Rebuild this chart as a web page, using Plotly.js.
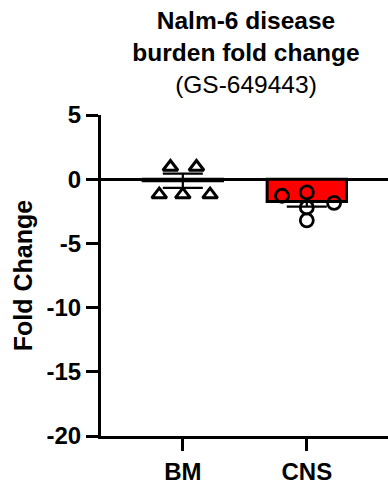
<!DOCTYPE html>
<html>
<head>
<meta charset="utf-8">
<script src="https://cdn.plot.ly/plotly-3.0.1.min.js"></script>
<style>html,body{margin:0;padding:0;background:#fff;}#chart{width:388px;height:485px;}</style>
</head>
<body>
<div id="chart"></div>
<script>
// ---- data ----
const categories = ['BM', 'CNS'];
const barMeans = [-0.12, -1.73];
const semPlus = [0.55, 0];
const semMinus = [0.55, 0.4];
const bmValues = [0.95, 0.95, -1.2, -1.2, -1.2];
const cnsValues = [-1.29, -1.03, -1.85, -2.2, -3.2];
const yTicks = [5, 0, -5, -10, -15, -20];

// ---- presentation ----
const bmJitter = [-0.1, 0.11, -0.19, 0.0, 0.22];
const cnsJitter = [-0.2, 0.0, 0.22, 0.0, 0.0];
const FONT = 'Liberation Sans, Arial, Helvetica, sans-serif';

const bars = {
  type: 'bar',
  x: categories.map((_, i) => i),
  y: barMeans,
  width: 0.64,
  marker: { color: ['white', 'red'], line: { color: 'black', width: 3 } },
  error_y: { type: 'data', symmetric: false, array: semPlus, arrayminus: semMinus,
             color: 'black', thickness: 2.2, width: 20 },
  hoverinfo: 'skip'
};
const bmPts = {
  type: 'scatter', mode: 'markers',
  x: bmValues.map((_, k) => 0 + bmJitter[k]),
  y: bmValues,
  marker: { symbol: 'triangle-up-open', size: 13, color: 'black', line: { width: 3, color: 'black' } }
};
const cnsPts = {
  type: 'scatter', mode: 'markers',
  x: cnsValues.map((_, k) => 1 + cnsJitter[k]),
  y: cnsValues,
  marker: { symbol: 'circle-open', size: 13, color: 'black', line: { width: 2.8, color: 'black' } }
};

const layout = {
  width: 388, height: 485,
  margin: { l: 101, r: 0, t: 115, b: 49 },
  paper_bgcolor: 'white', plot_bgcolor: 'white',
  showlegend: false,
  font: { family: FONT, color: 'black' },
  title: {
    text: '<b>Nalm-6 disease<br>burden fold change</b><br>(GS-649443)',
    font: { family: FONT, size: 24.5, color: 'black' },
    x: 0.634, xref: 'container', xanchor: 'center',
    y: 0.94, yref: 'container', yanchor: 'top'
  },
  xaxis: {
    range: [-0.66, 1.655],
    tickvals: categories.map((_, i) => i),
    ticktext: categories,
    showline: true, linewidth: 3, linecolor: 'black',
    ticks: 'outside', ticklen: 12, tickwidth: 3, tickcolor: 'black',
    showgrid: false, zeroline: false,
    tickfont: { family: FONT, size: 24, weight: 'bold', color: 'black' },
    fixedrange: true
  },
  yaxis: {
    range: [-20, 5],
    tickvals: yTicks,
    ticktext: yTicks.map(String),
    showline: true, linewidth: 3, linecolor: 'black',
    ticks: 'outside', ticklen: 12, tickwidth: 3, tickcolor: 'black',
    showgrid: false,
    zeroline: true, zerolinewidth: 3, zerolinecolor: 'black',
    tickfont: { family: FONT, size: 24, weight: 'bold', color: 'black' },
    title: { text: 'Fold Change', font: { family: FONT, size: 25, weight: 'bold', color: 'black' }, standoff: 7 },
    fixedrange: true
  }
};

Plotly.newPlot('chart', [bars, bmPts, cnsPts], layout, { displayModeBar: false, staticPlot: true });
</script>
</body>
</html>
